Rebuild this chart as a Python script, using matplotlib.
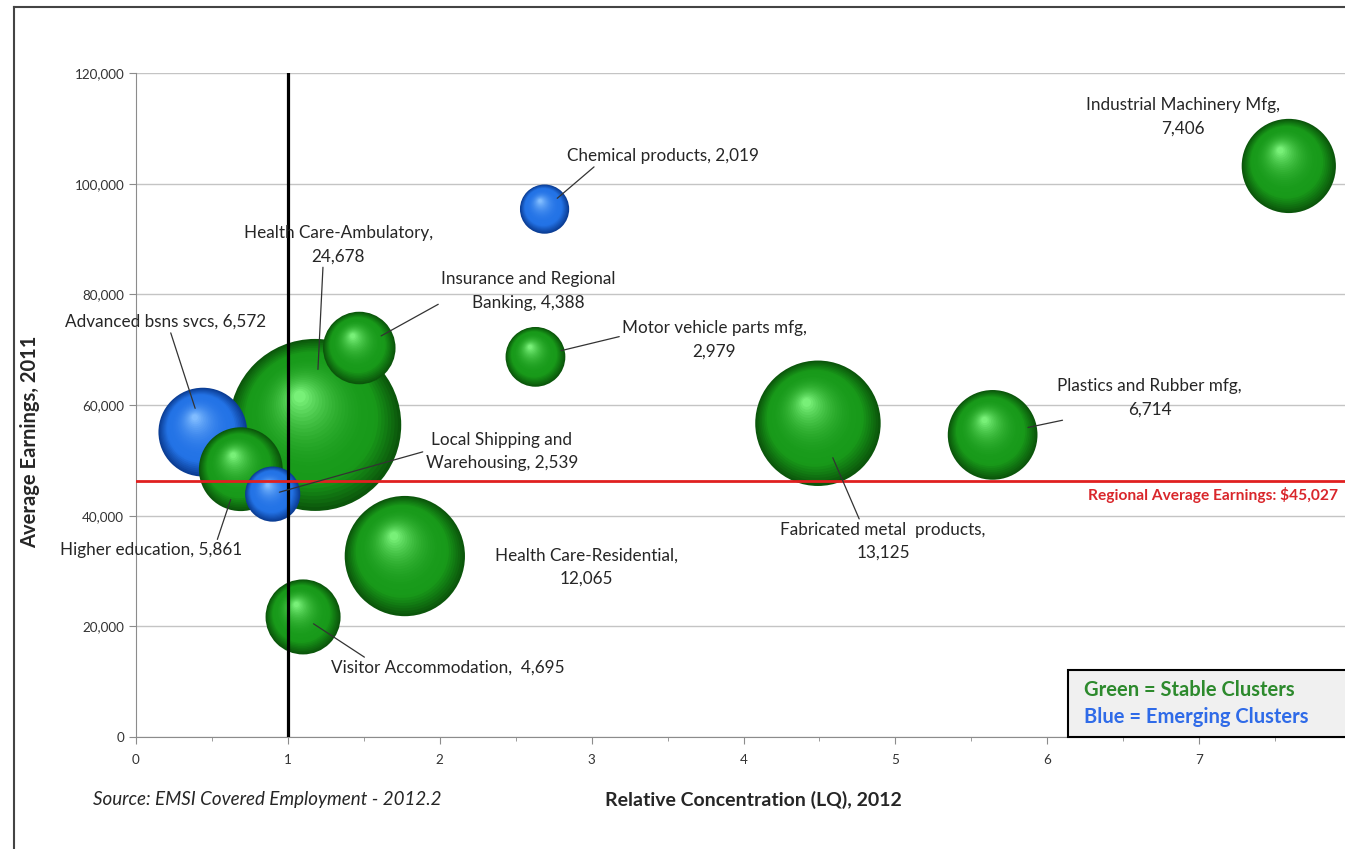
import matplotlib
matplotlib.use("Agg")
import matplotlib.pyplot as plt
import matplotlib.transforms as mtransforms
from matplotlib.patches import Rectangle
from matplotlib.lines import Line2D
from matplotlib.colors import to_rgb
import numpy as np

plt.rcParams['font.family'] = ['Lato', 'DejaVu Sans']

# cluster data
names = ["Health Care-Ambulatory", "Advanced bsns svcs", "Higher education",
         "Local Shipping and Warehousing", "Insurance and Regional Banking",
         "Chemical products", "Motor vehicle parts mfg", "Health Care-Residential",
         "Visitor Accommodation", "Fabricated metal products",
         "Plastics and Rubber mfg", "Industrial Machinery Mfg"]
lq = [1.18, 0.44, 0.69, 0.90, 1.47, 2.69, 2.63, 1.77, 1.10, 4.49, 5.64, 7.59]
earnings = [56400, 55100, 48400, 43900, 70300, 95400, 68700, 32700, 21700, 56700, 54600, 103200]
employment = [24678, 6572, 5861, 2539, 4388, 2019, 2979, 12065, 4695, 13125, 6714, 7406]
cluster = ["stable", "emerging", "stable", "emerging", "stable", "emerging",
           "stable", "stable", "stable", "stable", "stable", "stable"]
labels = ["Health Care-Ambulatory,\n24,678", "Advanced bsns svcs, 6,572",
          "Higher education, 5,861", "Local Shipping and\nWarehousing, 2,539",
          "Insurance and Regional\nBanking, 4,388", "Chemical products, 2,019",
          "Motor vehicle parts mfg,\n2,979", "Health Care-Residential,\n12,065",
          "Visitor Accommodation,  4,695", "Fabricated metal  products,\n13,125",
          "Plastics and Rubber mfg,\n6,714", "Industrial Machinery Mfg,\n7,406"]

regional_avg_line = 46200
lq_threshold = 1.0
x_ticks = [0, 1, 2, 3, 4, 5, 6, 7]
y_ticks = [0, 20000, 40000, 60000, 80000, 100000, 120000]

# label placement: offset of text centre from bubble (pixels), leader relpos, leader shrink (pt)
label_off = [(23, 180), (-37, 110), (-90, -81), (229, 43), (169, 57), (118, 53),
             (179, 17), (182, -11), (145, -51), (65, -118), (157, 37), (-106, 49)]
leader = [((0.42, 0), 40), ((0.52, 0), 18), ((0.86, 1), 23), ((0, 0.5), 5),
          ((0, 0.2), 18), ((0.16, 0), 12), ((0, 0.6), 19), None,
          ((0.16, 1), 9), ((0.39, 1), 27), ((0.1, 0), 26), None]

palette = {
    "stable": ("#0b560b", "#189a1a", "#78f078"),
    "emerging": ("#0b3d94", "#2373e6", "#80bcff"),
}

fig = plt.figure(figsize=(13.45, 8.49), dpi=100)
ax = fig.add_axes([136 / 1345, 1 - 737 / 849, 1 - 136 / 1345, (737 - 73) / 849])

k = 0.6215  # marker area (pt^2) per employee


def mix(c1, c2, t):
    a, b = np.array(to_rgb(c1)), np.array(to_rgb(c2))
    return tuple(a + (b - a) * t)


def sphere(x, y, s, kind, z):
    dark, mid, light = palette[kind]
    r = np.sqrt(s) / 2
    n = 30
    for i, t in enumerate(np.linspace(0, 1, n)):
        f = 1 - 0.93 * t
        if t < 0.25:
            col = mix(dark, mid, t / 0.25)
        else:
            col = mix(mid, light, ((t - 0.25) / 0.75) ** 2.4)
        dx, dy = -0.18 * r * t, 0.33 * r * t
        tr = ax.transData + mtransforms.ScaledTranslation(dx / 72, dy / 72, fig.dpi_scale_trans)
        ax.scatter([x], [y], s=s * f ** 2, color=col, edgecolors="none",
                   transform=tr, zorder=z + i * 0.001)


for i in range(len(names)):
    sphere(lq[i], earnings[i], employment[i] * k, cluster[i], 3 + i * 0.1)

for i in range(len(names)):
    kw = {}
    if leader[i] is not None:
        rp, sb = leader[i]
        kw["arrowprops"] = dict(arrowstyle="-", color="#333333", lw=0.9,
                                shrinkA=0, shrinkB=sb, relpos=rp)
    ax.annotate(labels[i], xy=(lq[i], earnings[i]), xytext=label_off[i],
                textcoords="offset pixels", ha="center", va="center",
                fontsize=12.3, color="#262626", linespacing=1.55, zorder=10, **kw)

ax.plot([lq_threshold, lq_threshold], [0, 120000], color="black", lw=2.3, zorder=8)
ax.axhline(regional_avg_line, color="#e02020", lw=2, zorder=8)
ax.annotate("Regional Average Earnings: $45,027", xy=(1, regional_avg_line),
            xycoords=("axes fraction", "data"), xytext=(-7, -14),
            textcoords="offset pixels", ha="right", va="center",
            fontsize=11.2, fontweight="bold", color="#d9262b", zorder=9)

ax.set_xlim(0, 7.96)
ax.set_ylim(0, 120000)
ax.set_xticks(x_ticks)
ax.set_xticks(np.arange(0.5, 8, 1), minor=True)
ax.set_yticks(y_ticks)
ax.set_yticklabels([f"{v:,}" for v in y_ticks])
ax.grid(axis="y", color="#c4c4c4", lw=1)
ax.set_axisbelow(True)
for side in ["top", "right"]:
    ax.spines[side].set_visible(False)
for side in ["left", "bottom"]:
    ax.spines[side].set_color("#8c8c8c")
ax.tick_params(axis="both", which="major", labelsize=9.7, colors="#8c8c8c",
               labelcolor="#333333", length=5, direction="out")
ax.tick_params(axis="x", which="minor", length=3, colors="#8c8c8c")
ax.tick_params(axis="x", pad=7)

fig.text(30 / 1345, 1 - 442 / 849, "Average Earnings, 2011", rotation=90,
         ha="center", va="center", fontsize=14.5, fontweight="bold", color="#262626")
fig.text(753 / 1345, 1 - 800 / 849, "Relative Concentration (LQ), 2012",
         ha="center", va="center", fontsize=14, fontweight="bold", color="#262626")
fig.text(93 / 1345, 1 - 799 / 849, "Source: EMSI Covered Employment - 2012.2",
         ha="left", va="center", fontsize=13.5, style="italic", color="#262626")

# key box
fig.patches.append(Rectangle((1068 / 1345, 1 - 737 / 849), 290 / 1345, 67 / 849,
                             transform=fig.transFigure, facecolor="#f0f0f0",
                             edgecolor="black", lw=1.5, zorder=20))
fig.text(1084 / 1345, 1 - 690 / 849, "Green = Stable Clusters", ha="left", va="center",
         fontsize=14.5, fontweight="bold", color="#2d8a2d", zorder=21)
fig.text(1084 / 1345, 1 - 717 / 849, "Blue = Emerging Clusters", ha="left", va="center",
         fontsize=14.5, fontweight="bold", color="#2f6be8", zorder=21)

# outer frame
fig.lines.append(Line2D([14.5 / 1345, 14.5 / 1345], [0, 1 - 7 / 849],
                        transform=fig.transFigure, color="#444444", lw=1.5))
fig.lines.append(Line2D([14 / 1345, 1], [1 - 7 / 849, 1 - 7 / 849],
                        transform=fig.transFigure, color="#444444", lw=1.5))

fig.savefig("out.png", dpi=100)
